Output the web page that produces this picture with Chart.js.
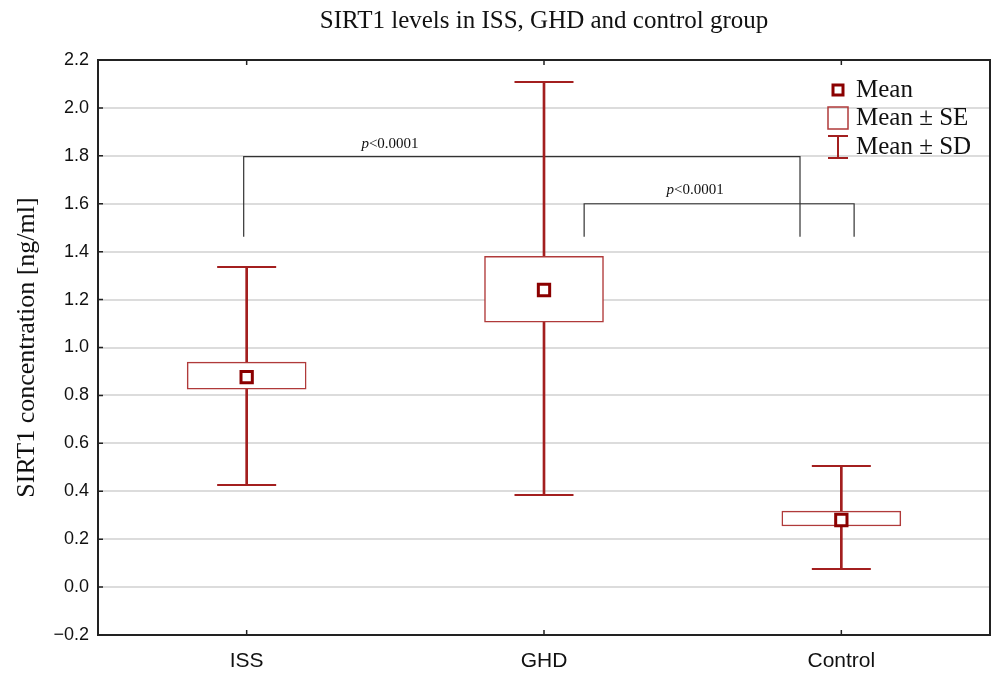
<!DOCTYPE html>
<html>
<head>
<meta charset="utf-8">
<script src="https://cdn.jsdelivr.net/npm/chart.js@4.4.0/dist/chart.umd.min.js"></script>
<style>
  html, body { margin:0; padding:0; background:#fff; }
  #wrap { width:992px; height:673px; position:relative; }
</style>
</head>
<body>
<div id="wrap"><canvas id="sirt"></canvas></div>
<script>
/* ===== DATA ===== */
const groups  = ['ISS', 'GHD', 'Control'];
const means   = [0.876, 1.240, 0.280];
const seLow   = [0.826, 1.106, 0.255];
const seHigh  = [0.939, 1.381, 0.317];
const sdLow   = [0.426, 0.384, 0.075];
const sdHigh  = [1.336, 2.108, 0.505];
const yTicks  = [-0.2, 0, 0.2, 0.4, 0.6, 0.8, 1.0, 1.2, 1.4, 1.6, 1.8, 2.0, 2.2];

// significance brackets (x in group index units, y in ng/ml)
const bracketLeft  = [-0.01, 1.135];
const bracketRight = [1.861, 2.043];
const bracketTop   = [1.797, 1.600];
const bracketFoot  = [1.462, 1.462];
const pText  = ['<0.0001', '<0.0001'];
const pTextX = [0.482, 1.508];
const pTextY = [1.855, 1.660];

const legendItems = ['Mean', 'Mean ± SE', 'Mean ± SD'];

/* ===== STYLE ===== */
const SERIF = "'Liberation Serif', 'Times New Roman', serif";
const SANS  = "'Liberation Sans', Arial, sans-serif";
const C_MEAN = '#8B0000';
const C_BOX  = '#B03A3A';
const C_SD   = '#A31F1F';
const C_GRID = '#dcdcdc';

const fmtTick = v => (v < 0 ? '\u2212' : '') + Math.abs(v).toFixed(1);

const brackets = bracketLeft.map((l, i) => ({
  type: 'scatter', showLine: true, pointRadius: 0,
  borderColor: '#333', borderWidth: 1.2, tension: 0,
  data: [
    { x: l, y: bracketFoot[i] }, { x: l, y: bracketTop[i] },
    { x: bracketRight[i], y: bracketTop[i] }, { x: bracketRight[i], y: bracketFoot[i] }
  ]
}));

/* ===== PLUGIN: frame, inner ticks, p labels, legend ===== */
const extras = {
  id: 'extras',
  afterDatasetsDraw(chart) {
    const { ctx, scales: { x, y } } = chart;
    ctx.save();
    ctx.fillStyle = '#111';
    ctx.textBaseline = 'alphabetic';
    pText.forEach((t, i) => {
      ctx.font = 'italic 15px ' + SERIF;
      const wp = ctx.measureText('p').width;
      ctx.font = '15px ' + SERIF;
      const wt = ctx.measureText(t).width;
      const cx = x.getPixelForValue(pTextX[i]), cy = y.getPixelForValue(pTextY[i]);
      const sx = cx - (wp + wt) / 2;
      ctx.font = 'italic 15px ' + SERIF;
      ctx.fillText('p', sx, cy + 5);
      ctx.font = '15px ' + SERIF;
      ctx.fillText(t, sx + wp, cy + 5);
    });
    ctx.restore();
  },
  afterDraw(chart) {
    const { ctx, chartArea: a, scales: { x, y } } = chart;
    ctx.save();
    ctx.strokeStyle = '#222';
    ctx.lineWidth = 2;
    ctx.strokeRect(a.left, a.top, a.right - a.left, a.bottom - a.top);
    ctx.lineWidth = 1.5;
    ctx.beginPath();
    yTicks.forEach(v => {
      const py = y.getPixelForValue(v);
      ctx.moveTo(a.left, py); ctx.lineTo(a.left + 5, py);
    });
    groups.forEach((g, i) => {
      const px = x.getPixelForValue(i);
      ctx.moveTo(px, a.bottom); ctx.lineTo(px, a.bottom - 5);
      ctx.moveTo(px, a.top); ctx.lineTo(px, a.top + 5);
    });
    ctx.stroke();

    // legend
    const lx = 838, ly = [90, 118, 147];
    ctx.strokeStyle = C_MEAN; ctx.lineWidth = 3; ctx.fillStyle = '#fff';
    ctx.fillRect(lx - 5, ly[0] - 5, 10, 10);
    ctx.strokeRect(lx - 5, ly[0] - 5, 10, 10);
    ctx.strokeStyle = C_BOX; ctx.lineWidth = 1.5;
    ctx.strokeRect(lx - 10, ly[1] - 11, 20, 22);
    ctx.strokeStyle = C_SD; ctx.lineWidth = 2;
    ctx.beginPath();
    ctx.moveTo(lx, ly[2] - 11); ctx.lineTo(lx, ly[2] + 11);
    ctx.moveTo(lx - 10, ly[2] - 11); ctx.lineTo(lx + 10, ly[2] - 11);
    ctx.moveTo(lx - 10, ly[2] + 11); ctx.lineTo(lx + 10, ly[2] + 11);
    ctx.stroke();
    ctx.fillStyle = '#111';
    ctx.font = '25px ' + SERIF;
    ctx.textBaseline = 'middle';
    legendItems.forEach((t, i) => ctx.fillText(t, 856, ly[i]));
    ctx.restore();
  }
};

/* ===== CHART ===== */
new Chart(document.getElementById('sirt'), {
  type: 'scatter',
  data: {
    datasets: [
      { // mean marker
        data: groups.map((g, i) => ({ x: i, y: means[i] })),
        pointStyle: 'rect', pointRadius: 8, borderWidth: 3,
        borderColor: C_MEAN, backgroundColor: '#fff'
      },
      { // mean ± SE box
        type: 'bar', grouped: false, barThickness: 119,
        data: groups.map((g, i) => ({ x: i, y: [seLow[i], seHigh[i]] })),
        backgroundColor: '#fff', borderColor: C_BOX, borderWidth: 1.5, borderSkipped: false
      },
      { // SD caps
        data: groups.flatMap((g, i) => [{ x: i, y: sdLow[i] }, { x: i, y: sdHigh[i] }]),
        pointStyle: 'line', pointRadius: 29.5, borderWidth: 2, borderColor: C_SD
      },
      { // SD whisker
        type: 'bar', grouped: false, barThickness: 2,
        data: groups.map((g, i) => ({ x: i, y: [sdLow[i], sdHigh[i]] })),
        backgroundColor: C_SD, borderWidth: 0
      },
      ...brackets
    ]
  },
  options: {
    responsive: true, maintainAspectRatio: false, animation: false, events: [],
    layout: { autoPadding: false, padding: { left: 0, right: 2, top: 0, bottom: 0 } },
    plugins: {
      legend: { display: false }, tooltip: { enabled: false },
      title: {
        display: true, fullSize: false, text: 'SIRT1 levels in ISS, GHD and control group',
        color: '#111', font: { family: SERIF, size: 25, weight: 'normal' },
        padding: { top: 6, bottom: 24 }
      }
    },
    scales: {
      x: {
        type: 'linear', min: -0.5, max: 2.5, offset: false,
        afterBuildTicks: s => { s.ticks = groups.map((g, i) => ({ value: i })); },
        afterFit: s => { s.height = 38; s.paddingLeft = 0; s.paddingRight = 0; },
        grid: { display: false, drawTicks: false },
        border: { display: true, color: '#222', width: 2 },
        ticks: { padding: 14, color: '#111', font: { family: SANS, size: 21 },
          callback: v => groups[v] }
      },
      y: {
        min: -0.2, max: 2.2,
        afterBuildTicks: s => { s.ticks = yTicks.map(v => ({ value: v })); },
        afterFit: s => { s.width = 98; s.paddingTop = 0; s.paddingBottom = 0; },
        grid: { color: C_GRID, lineWidth: 2, drawTicks: false },
        border: { display: true, color: '#222', width: 2 },
        ticks: { padding: 9, color: '#111', font: { family: SANS, size: 18 }, callback: fmtTick },
        title: { display: true, text: 'SIRT1 concentration [ng/ml]', color: '#111',
          font: { family: SERIF, size: 26 }, padding: { top: 12, bottom: 0 } }
      }
    }
  },
  plugins: [extras]
});
</script>
</body>
</html>
